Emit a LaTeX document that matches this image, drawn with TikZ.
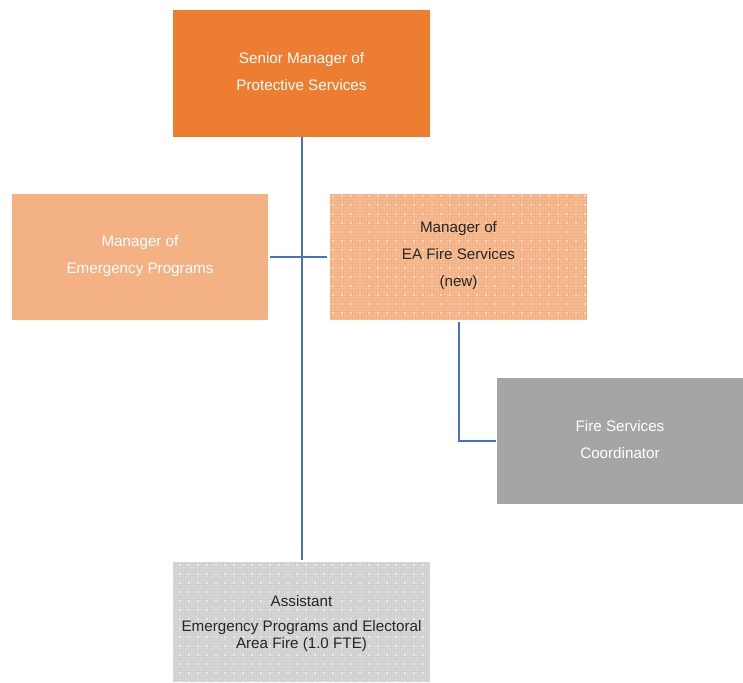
\documentclass[tikz,border=0pt]{standalone}
\usepackage{fontspec}
\setmainfont{Liberation Sans}
\usetikzlibrary{patterns.meta}
\definecolor{darkorange}{HTML}{ED7D31}
\definecolor{lightorange}{HTML}{F4B183}
\definecolor{paleorange}{HTML}{FBE0CC}
\definecolor{midgray}{HTML}{A5A5A5}
\definecolor{lightgray}{HTML}{D0D0D0}
\definecolor{palegray}{HTML}{ECECEC}
\definecolor{linkblue}{HTML}{4472C4}
\tikzset{
  box/.style={inner sep=0pt, align=center, font=\fontsize{15.2}{27}\selectfont},
  solidbox/.style={box, text=white},
  dottedbox/.style={box, text=black!85},
  link/.style={draw=linkblue, line width=1.5pt},
}
\begin{document}
\begin{tikzpicture}[x=1pt,y=-1pt]
\useasboundingbox (0,0) rectangle (743,682);
% solid boxes
\fill[darkorange] (173,10) rectangle (430,137);
\fill[lightorange] (12,194) rectangle (268,320);
\fill[midgray] (497,378) rectangle (743,504);
% dotted boxes
\fill[lightorange] (330,194) rectangle (587,320);
\fill[pattern={Dots[distance=3pt,radius=0.7pt]}, pattern color=paleorange] (330,194) rectangle (587,320);
\fill[pattern={Dots[distance=9pt,radius=0.9pt]}, pattern color=white] (330,194) rectangle (587,320);
\fill[lightgray] (173,562) rectangle (430,682);
\fill[pattern={Dots[distance=3pt,radius=0.7pt]}, pattern color=palegray] (173,562) rectangle (430,682);
\fill[pattern={Dots[distance=9pt,radius=0.9pt]}, pattern color=white] (173,562) rectangle (430,682);
% labels
\node[solidbox] (senior) at (301.5,72) {Senior Manager of\\Protective Services};
\node[solidbox] (emerg) at (140,256) {Manager of\\Emergency Programs};
\node[dottedbox] (eafire) at (458.5,256) {Manager of\\EA Fire Services\\(new)};
\node[solidbox] (coord) at (620,440) {Fire Services\\Coordinator};
\node[dottedbox, font=\fontsize{15.2}{17}\selectfont] (assist) at (301.5,624) {Assistant\\[8pt]Emergency Programs and Electoral\\Area Fire (1.0 FTE)};
% anchor points on box edges
\coordinate (seniorB) at (302,137);
\coordinate (assistT) at (302,560);
\coordinate (emergR) at (270,257);
\coordinate (eafireL) at (327,257);
\coordinate (eafireB) at (459,322);
\coordinate (bend) at (459,441);
\coordinate (coordL) at (496,441);
% connectors
\draw[link] (seniorB) -- (assistT);
\draw[link] (emergR) -- (eafireL);
\draw[link] (eafireB) -- (bend) -- (coordL);
\end{tikzpicture}
\end{document}
